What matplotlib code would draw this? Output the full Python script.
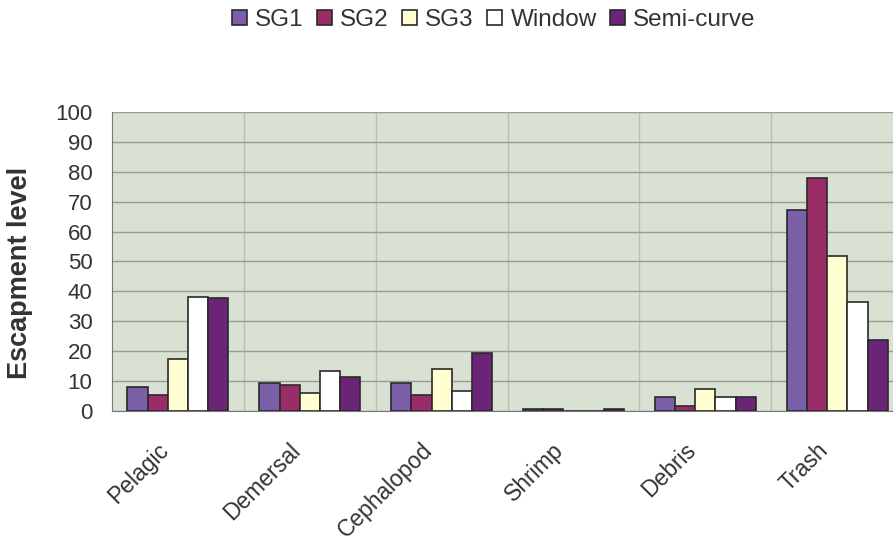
import matplotlib
matplotlib.use("Agg")
import matplotlib.pyplot as plt
import matplotlib.transforms as mtransforms
import numpy as np

plt.rcParams['font.family'] = ['Liberation Sans', 'DejaVu Sans']

categories = ["Pelagic", "Demersal", "Cephalopod", "Shrimp", "Debris", "Trash"]
series_names = ["SG1", "SG2", "SG3", "Window", "Semi-curve"]
sg1 = [8.0, 9.4, 9.4, 0.5, 4.7, 67.3]
sg2 = [5.4, 8.7, 5.4, 0.5, 1.5, 78.0]
sg3 = [17.4, 6.0, 14.0, 0.0, 7.4, 51.8]
window = [38.0, 13.4, 6.7, 0.0, 4.7, 36.4]
semi_curve = [37.8, 11.4, 19.4, 0.5, 4.7, 23.7]
colors = ["#7b5fa8", "#9a2d68", "#ffffd2", "#ffffff", "#6a2478"]
y_ticks = [0, 10, 20, 30, 40, 50, 60, 70, 80, 90, 100]

fig = plt.figure(figsize=(8.93, 5.46), dpi=100)
ax = fig.add_axes([0.1254, 0.2473, 0.886, 0.5476])
ax.set_facecolor("#d9e1d3")

x = np.arange(len(categories))
bw = 0.153
series = [sg1, sg2, sg3, window, semi_curve]
for i, (vals, c, name) in enumerate(zip(series, colors, series_names)):
    ax.bar(x + (i - 2) * bw, vals, width=bw, color=c, edgecolor="#2a2a2a",
           linewidth=1.2, label=name, zorder=3)

ax.set_xlim(-0.5, len(categories) - 0.5)
ax.set_ylim(0, 100)
ax.set_yticks(y_ticks)
ax.yaxis.grid(True, color="#979c95", linewidth=1.0, zorder=0)
for b in np.arange(0.5, len(categories) - 0.5, 1.0):
    ax.axvline(b, color="#b9c0b6", linewidth=1.0, zorder=1)

ax.set_xticks(x)
ax.set_xticklabels(categories, rotation=45, ha="right", va="center",
                   rotation_mode="anchor", fontsize=16.5, color="#333333")
ax.tick_params(axis="x", length=0, pad=26)
shift = mtransforms.ScaledTranslation(-13 / 100, 0, fig.dpi_scale_trans)
for lbl in ax.get_xticklabels():
    lbl.set_transform(lbl.get_transform() + shift)
ax.tick_params(axis="y", length=0, labelsize=16, labelcolor="#333333", pad=14)

for s in ["top", "right"]:
    ax.spines[s].set_visible(False)
ax.spines["left"].set_color("#777777")
ax.spines["bottom"].set_color("#777777")

ax.set_ylabel("Escapment level", fontsize=19.5, fontweight="bold", color="#333333")
ax.yaxis.set_label_coords(-0.100, 0.463)

fig.legend(loc="center", bbox_to_anchor=(0.553, 0.963), ncol=5, frameon=False,
           fontsize=17.5, handlelength=0.6, handleheight=0.6, handletextpad=0.35,
           columnspacing=0.55, labelcolor="#333333")

fig.savefig("out.png", dpi=100)
